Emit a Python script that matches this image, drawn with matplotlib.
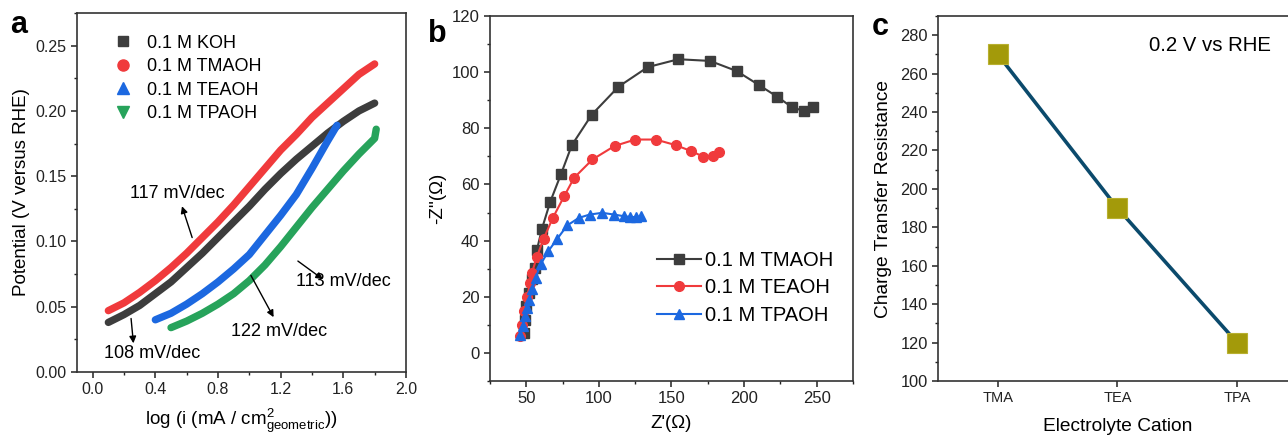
import matplotlib
matplotlib.use("Agg")
import matplotlib.pyplot as plt
from matplotlib.lines import Line2D
from matplotlib.ticker import MultipleLocator, FormatStrFormatter

plt.rcParams['font.family'] = ['Liberation Sans', 'DejaVu Sans']
plt.rcParams['mathtext.fontset'] = 'custom'
plt.rcParams['mathtext.rm'] = 'Liberation Sans'

# --- panel a: Tafel ---
koh_x = [0.1, 0.2, 0.3, 0.4, 0.5, 0.6, 0.7, 0.8, 0.9, 1.0, 1.1, 1.2, 1.3, 1.4, 1.5, 1.6, 1.7, 1.8]
koh_y = [0.038, 0.044, 0.051, 0.060, 0.069, 0.080, 0.091, 0.103, 0.115, 0.127, 0.140, 0.152,
         0.163, 0.173, 0.183, 0.192, 0.200, 0.206]
tma_x = [0.1, 0.2, 0.3, 0.4, 0.5, 0.6, 0.7, 0.8, 0.9, 1.0, 1.1, 1.2, 1.3, 1.4, 1.5, 1.6, 1.7, 1.8]
tma_y = [0.047, 0.053, 0.061, 0.070, 0.080, 0.091, 0.103, 0.115, 0.128, 0.142, 0.156, 0.170,
         0.182, 0.195, 0.206, 0.217, 0.228, 0.236]
tea_x = [0.4, 0.5, 0.6, 0.7, 0.8, 0.9, 1.0, 1.1, 1.2, 1.3, 1.4, 1.5, 1.56]
tea_y = [0.040, 0.045, 0.052, 0.060, 0.069, 0.079, 0.090, 0.105, 0.120, 0.136, 0.156, 0.177, 0.189]
tpa_x = [0.5, 0.6, 0.7, 0.8, 0.9, 1.0, 1.1, 1.2, 1.3, 1.4, 1.5, 1.6, 1.7, 1.8, 1.81]
tpa_y = [0.034, 0.039, 0.045, 0.052, 0.060, 0.070, 0.082, 0.096, 0.111, 0.126, 0.140, 0.154,
         0.167, 0.179, 0.186]
tafel_labels = ["0.1 M KOH", "0.1 M TMAOH", "0.1 M TEAOH", "0.1 M TPAOH"]
slopes = ["117 mV/dec", "108 mV/dec", "122 mV/dec", "113 mV/dec"]

# --- panel b: Nyquist ---
nyq_tma_x = [48.6, 49.1, 50.0, 51.6, 53.9, 56.2, 57.3, 60.8, 66.5, 74.1, 81.4, 95.2, 113.5,
             133.7, 154.8, 176.6, 194.9, 210.6, 223.0, 232.8, 241.3, 247.7]
nyq_tma_y = [7.1, 11.9, 16.6, 21.4, 26.4, 30.3, 36.6, 44.2, 53.8, 63.9, 74.0, 84.9, 94.8,
             101.8, 104.6, 104.0, 100.4, 95.3, 91.2, 87.6, 86.1, 87.7]
nyq_tea_x = [45.9, 47.0, 48.5, 50.5, 52.8, 53.9, 57.3, 61.9, 68.3, 76.1, 83.0, 95.6, 110.8,
             125.0, 139.2, 153.0, 163.5, 172.0, 178.4, 182.8]
nyq_tea_y = [5.9, 10.1, 15.0, 20.0, 24.9, 28.5, 34.2, 40.6, 48.1, 55.8, 62.4, 68.9, 73.7,
             76.0, 76.0, 74.0, 71.9, 69.9, 70.3, 71.5]
nyq_tpa_x = [46.0, 47.5, 49.0, 50.5, 52.0, 54.1, 56.4, 59.9, 65.1, 71.3, 78.2, 86.2, 93.8,
             102.3, 110.3, 117.2, 121.8, 125.7, 129.1]
nyq_tpa_y = [6.5, 9.5, 13.0, 16.0, 19.0, 22.6, 26.7, 31.5, 36.2, 40.6, 45.4, 48.1, 49.3,
             49.9, 49.3, 48.7, 48.4, 48.4, 48.7]
nyq_labels = ["0.1 M TMAOH", "0.1 M TEAOH", "0.1 M TPAOH"]

# --- panel c: charge transfer resistance ---
cations = ["TMA", "TEA", "TPA"]
rct = [270, 190, 120]

c_gray = '#3d3d3d'
c_red = '#f03a3c'
c_blue = '#1c68e0'
c_green = '#27a35b'


def style_axes(ax, fs):
    for s in ax.spines.values():
        s.set_linewidth(1.2)
        s.set_color('#333333')
    ax.tick_params(which='both', direction='out', top=False, right=False,
                   labelsize=fs, colors='#222222')
    ax.tick_params(which='major', length=4, width=1.1)
    ax.tick_params(which='minor', length=2.5, width=1.0)


fig = plt.figure(figsize=(12.88, 4.37), dpi=100)

# ---------------- a ----------------
ax1 = fig.add_axes([0.0598, 0.1487, 0.2554, 0.8215])
for xs, ys, col in [(koh_x, koh_y, c_gray), (tma_x, tma_y, c_red),
                    (tea_x, tea_y, c_blue), (tpa_x, tpa_y, c_green)]:
    ax1.plot(xs, ys, color=col, lw=5.3, solid_capstyle='round', solid_joinstyle='round')
ax1.set_xlim(-0.1, 2.0)
ax1.set_ylim(0, 0.275)
ax1.xaxis.set_major_locator(MultipleLocator(0.4))
ax1.xaxis.set_minor_locator(MultipleLocator(0.2))
ax1.yaxis.set_major_locator(MultipleLocator(0.05))
ax1.yaxis.set_minor_locator(MultipleLocator(0.025))
ax1.xaxis.set_major_formatter(FormatStrFormatter('%.1f'))
ax1.yaxis.set_major_formatter(FormatStrFormatter('%.2f'))
style_axes(ax1, 11.5)
ax1.set_xlabel(r'log (i (mA / cm$\mathregular{^2_{geometric}}$))', fontsize=13.5, labelpad=7)
ax1.set_ylabel('Potential (V versus RHE)', fontsize=13.5, labelpad=4)

handles = [Line2D([], [], ls='none', marker=m, color=c, markersize=ms)
           for m, c, ms in [('s', c_gray, 7), ('o', c_red, 8), ('^', c_blue, 8), ('v', c_green, 8)]]
ax1.legend(handles, tafel_labels, loc='upper left', bbox_to_anchor=(0.075, 0.975), frameon=False,
           fontsize=13, handlelength=1.0, handletextpad=0.8, labelspacing=0.36, borderpad=0.2)

arr = dict(arrowstyle='-|>', color='black', lw=1.0, mutation_scale=10, shrinkA=0, shrinkB=0)
ax1.annotate('', xy=(0.57, 0.127), xytext=(0.635, 0.103), arrowprops=arr)
ax1.text(0.54, 0.137, slopes[0], fontsize=13, ha='center', va='center')
ax1.annotate('', xy=(0.26, 0.022), xytext=(0.245, 0.041), arrowprops=arr)
ax1.text(0.38, 0.014, slopes[1], fontsize=13, ha='center', va='center')
ax1.annotate('', xy=(1.155, 0.042), xytext=(1.01, 0.074), arrowprops=arr)
ax1.text(1.19, 0.031, slopes[2], fontsize=13, ha='center', va='center')
ax1.annotate('', xy=(1.47, 0.071), xytext=(1.31, 0.085), arrowprops=arr)
ax1.text(1.60, 0.069, slopes[3], fontsize=13, ha='center', va='center')

# ---------------- b ----------------
ax2 = fig.add_axes([0.3804, 0.1281, 0.2818, 0.8353])
ax2.plot(nyq_tma_x, nyq_tma_y, '-s', color=c_gray, lw=1.5, markersize=6.5, label=nyq_labels[0])
ax2.plot(nyq_tea_x, nyq_tea_y, '-o', color=c_red, lw=1.5, markersize=7, label=nyq_labels[1])
ax2.plot(nyq_tpa_x, nyq_tpa_y, '-^', color=c_blue, lw=1.5, markersize=7, label=nyq_labels[2])
ax2.set_xlim(25, 275)
ax2.set_ylim(-10, 120)
ax2.xaxis.set_major_locator(MultipleLocator(50))
ax2.xaxis.set_minor_locator(MultipleLocator(25))
ax2.yaxis.set_major_locator(MultipleLocator(20))
ax2.yaxis.set_minor_locator(MultipleLocator(10))
style_axes(ax2, 12)
ax2.set_xlabel("Z'(Ω)", fontsize=13.5, labelpad=6)
ax2.set_ylabel("-Z''(Ω)", fontsize=13.5, labelpad=4)
ax2.legend(loc='lower right', bbox_to_anchor=(0.985, 0.115), frameon=False, fontsize=14.5,
           handlelength=2.2, handletextpad=0.2, labelspacing=0.42, borderpad=0.2)

# ---------------- c ----------------
ax3 = fig.add_axes([0.7283, 0.1281, 0.2786, 0.8353])
xi = list(range(len(cations)))
ax3.plot(xi, rct, color='#0b4a6c', lw=2.6, zorder=2)
ax3.plot(xi, rct, ls='none', marker='s', markersize=14, color='#a39a0a',
         markeredgecolor='#b8b030', markeredgewidth=0.8, zorder=3)
ax3.set_xlim(-0.5, 2.5)
ax3.set_ylim(100, 290)
ax3.set_xticks(xi)
ax3.set_xticklabels(cations)
ax3.yaxis.set_major_locator(MultipleLocator(20))
ax3.yaxis.set_minor_locator(MultipleLocator(10))
style_axes(ax3, 11.8)
ax3.tick_params(axis='x', labelsize=10.5)
ax3.set_xlabel('Electrolyte Cation', fontsize=13.8, labelpad=9)
ax3.set_ylabel('Charge Transfer Resistance', fontsize=13.8, labelpad=6)
ax3.text(0.758, 0.92, '0.2 V vs RHE', transform=ax3.transAxes, fontsize=14.7,
         ha='center', va='center')

# panel letters
fig.text(0.008, 0.925, 'a', fontsize=22, fontweight='bold')
fig.text(0.332, 0.905, 'b', fontsize=22, fontweight='bold')
fig.text(0.677, 0.92, 'c', fontsize=22, fontweight='bold')

fig.savefig('out.png', dpi=100)
